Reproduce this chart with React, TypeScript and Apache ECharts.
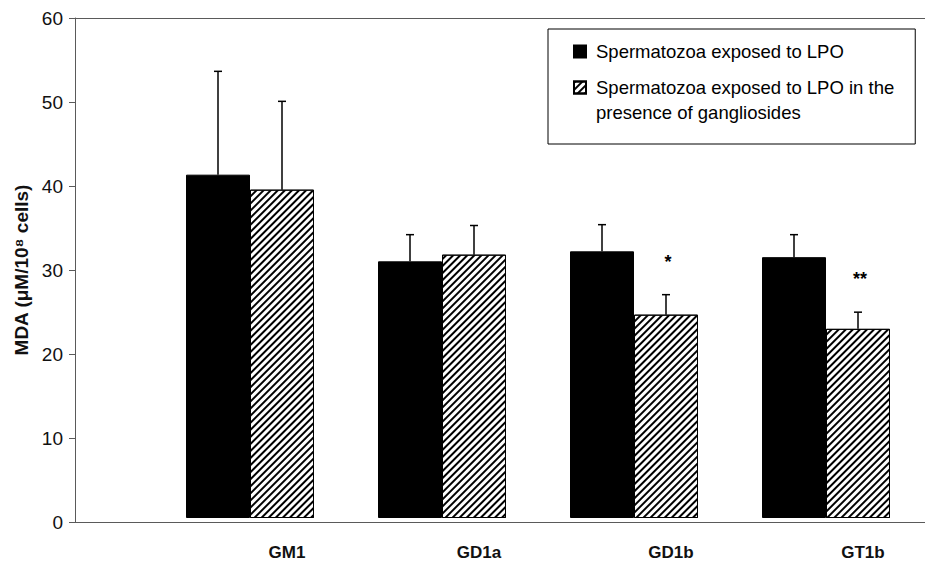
import React, { useEffect, useRef } from 'react';
import * as echarts from 'echarts';

const categories = ['GM1', 'GD1a', 'GD1b', 'GT1b'];
const lpoValues = [41.2, 30.8, 32.0, 31.3];
const lpoErrors = [12.4, 3.2, 3.2, 2.7];
const gangValues = [39.4, 31.6, 24.4, 22.7];
const gangErrors = [10.6, 3.5, 2.4, 2.0];
const gangSignificance = ['', '', '*', '**'];
const seriesNames = [
  'Spermatozoa exposed to LPO',
  'Spermatozoa exposed to LPO in the presence of gangliosides',
];
const legendLabels = [
  'Spermatozoa exposed to LPO',
  ' \nSpermatozoa exposed to LPO in the\npresence of gangliosides',
];
const yMin = 0;
const yMax = 60;
const yStep = 10;
const yTitle = 'MDA (μM/10⁸ cells)';

const FONT = '"Liberation Sans", Arial, Helvetica, sans-serif';
const AXIS_GRAY = '#5a5a5a';

const hatch = {
  symbol: 'rect',
  symbolSize: 1,
  color: '#000',
  backgroundColor: '#fff',
  dashArrayX: [1, 0],
  dashArrayY: [2, 2.6],
  rotation: -Math.PI / 4,
};

function errorSeries(values: number[], errors: number[], side: number, marks: string[] | null) {
  return {
    type: 'custom',
    xAxisIndex: 0,
    yAxisIndex: 0,
    z: 5,
    silent: true,
    data: values.map((v, i) => [i, v, v + errors[i]]),
    renderItem: (params: any, api: any) => {
      const i = api.value(0);
      const base = api.coord([i, api.value(1)]);
      const top = api.coord([i, api.value(2)]);
      const band = api.size([1, 0])[0];
      const x = base[0] + (side * band) / 6;
      const st = { stroke: '#000', lineWidth: 1.5 };
      const children: any[] = [
        { type: 'line', shape: { x1: x, y1: base[1], x2: x, y2: top[1] }, style: st },
        { type: 'line', shape: { x1: x - 4, y1: top[1], x2: x + 4, y2: top[1] }, style: st },
      ];
      const mark = marks ? marks[params.dataIndex] : '';
      if (mark) {
        children.push({
          type: 'text',
          x: x + 2,
          y: top[1] - 33,
          style: {
            text: mark,
            fill: '#000',
            font: `bold 18px ${FONT}`,
            align: 'center',
            verticalAlign: 'middle',
          },
        });
      }
      return { type: 'group', children };
    },
  };
}

export default function App() {
  const ref = useRef<HTMLDivElement>(null);

  useEffect(() => {
    if (!ref.current) return;
    const chart = echarts.init(ref.current, undefined, { renderer: 'svg' });
    chart.setOption({
      animation: false,
      backgroundColor: '#fff',
      textStyle: { fontFamily: FONT },
      grid: [
        { left: 154, right: 3, top: 18, bottom: 39 },
        { left: 75, right: 0, top: 18, bottom: 39 },
      ],
      legend: {
        orient: 'vertical',
        left: 548,
        top: 29,
        padding: [10, 21, 19, 25],
        itemGap: -14,
        itemWidth: 12,
        itemHeight: 12,
        borderColor: '#000',
        borderWidth: 1,
        selectedMode: false,
        textStyle: { fontSize: 18.5, color: '#000', lineHeight: 25, fontFamily: FONT, padding: [0, 0, 0, 5] },
        formatter: (name: string) => legendLabels[seriesNames.indexOf(name)],
        data: [
          { name: seriesNames[0], icon: 'rect' },
          { name: seriesNames[1], icon: 'rect' },
        ],
      },
      xAxis: [
        {
          type: 'category',
          gridIndex: 0,
          data: categories,
          axisLine: { show: false },
          axisTick: { show: false },
          axisLabel: {
            fontSize: 17,
            fontWeight: 'bold',
            color: '#111',
            margin: 26,
            padding: [0, 0, 0, 74],
            fontFamily: FONT,
          },
        },
        {
          type: 'value',
          gridIndex: 1,
          position: 'bottom',
          min: 0,
          max: 1,
          axisLine: { show: true, lineStyle: { color: AXIS_GRAY, width: 1 } },
          axisTick: { show: false },
          axisLabel: { show: false },
          splitLine: { show: false },
        },
        {
          type: 'value',
          gridIndex: 1,
          position: 'top',
          min: 0,
          max: 1,
          axisLine: { show: true, lineStyle: { color: AXIS_GRAY, width: 1 } },
          axisTick: { show: false },
          axisLabel: { show: false },
          splitLine: { show: false },
        },
      ],
      yAxis: [
        { type: 'value', gridIndex: 0, min: yMin, max: yMax, interval: yStep, show: false },
        {
          type: 'value',
          gridIndex: 1,
          min: yMin,
          max: yMax,
          interval: yStep,
          axisLine: { show: true, lineStyle: { color: AXIS_GRAY, width: 1 } },
          axisTick: { show: true, inside: false, length: 6, lineStyle: { color: AXIS_GRAY } },
          axisLabel: { fontSize: 19, color: '#111', margin: 12, fontFamily: FONT },
          splitLine: { show: false },
          name: yTitle,
          nameLocation: 'middle',
          nameGap: 43,
          nameTextStyle: { fontSize: 19, fontWeight: 'bold', color: '#111', fontFamily: FONT },
        },
      ],
      series: [
        {
          name: seriesNames[0],
          type: 'bar',
          xAxisIndex: 0,
          yAxisIndex: 0,
          data: lpoValues,
          barWidth: '33.33%',
          barGap: '0%',
          itemStyle: { color: '#000', borderColor: '#000', borderWidth: 1 },
        },
        {
          name: seriesNames[1],
          type: 'bar',
          xAxisIndex: 0,
          yAxisIndex: 0,
          data: gangValues,
          barWidth: '33.33%',
          barGap: '0%',
          itemStyle: { color: '#fff', borderColor: '#000', borderWidth: 1, decal: hatch },
        },
        errorSeries(lpoValues, lpoErrors, -1, null),
        errorSeries(gangValues, gangErrors, 1, gangSignificance),
      ],
    });
    return () => chart.dispose();
  }, []);

  return (
    <div
      ref={ref}
      style={{ position: 'fixed', left: 0, top: 0, width: 925, height: 561, background: '#fff' }}
    />
  );
}
